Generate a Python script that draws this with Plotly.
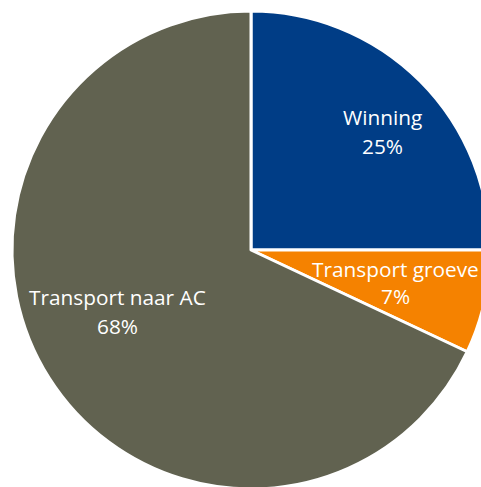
import plotly.graph_objects as go

categories = ["Winning", "Transport groeve", "Transport naar AC"]
values = [25, 7, 68]
colors = ["#003D86", "#F58200", "#616250"]

W, H = 502, 500
cx, cy, R = 251, 250, 239

fig = go.Figure(go.Pie(
    labels=categories,
    values=values,
    sort=False,
    direction="clockwise",
    rotation=0,
    marker=dict(colors=colors, line=dict(color="white", width=3)),
    textinfo="none",
    hoverinfo="label+percent",
    domain=dict(x=[(cx - R) / W, (cx + R) / W], y=[(H - cy - R) / H, (H - cy + R) / H]),
    showlegend=False,
))

# label anchor points (pixel positions of text block centres, top-left origin)
label_pos = [(382, 117, 146), (395, 269, 296), (117, 297, 326)]
total = sum(values)
ann = []
for name, v, (x, y1, y2) in zip(categories, values, label_pos):
    pct = f"{round(100 * v / total)}%"
    for txt, y in ((name, y1), (pct, y2)):
        ann.append(dict(text=txt, x=x / W, y=1 - y / H, xref="paper", yref="paper",
                        showarrow=False, xanchor="center", yanchor="middle",
                        font=dict(family="Open Sans, sans-serif", size=20.8, color="white")))

fig.update_layout(
    width=W, height=H,
    margin=dict(l=0, r=0, t=0, b=0),
    paper_bgcolor="white", plot_bgcolor="white",
    annotations=ann,
)

fig.write_html("out.html", config={"displayModeBar": False},
               post_script="document.body.style.margin='0';document.body.style.overflow='hidden';document.documentElement.style.overflow='hidden';")
